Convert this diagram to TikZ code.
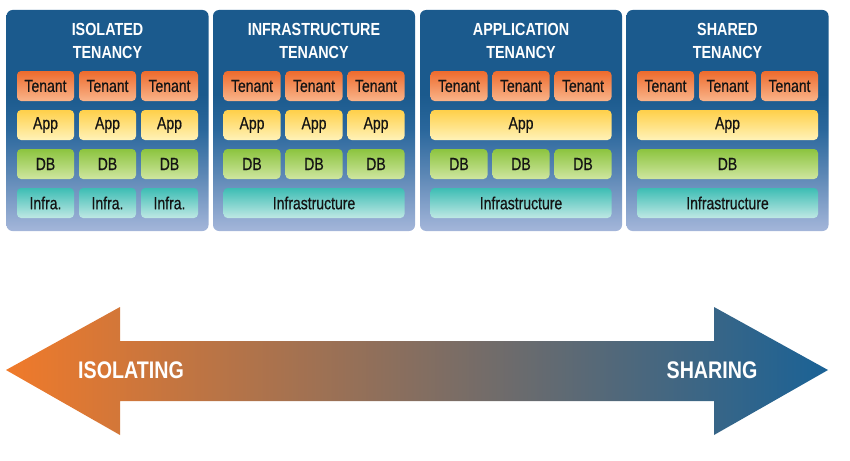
\documentclass[tikz,border=0pt]{standalone}
\usepackage{fontspec}
\newfontfamily\cond{Liberation Sans}[FakeStretch=0.82]
\newfontfamily\condmed{Liberation Sans}[FakeStretch=0.80,FakeBold=0.6]
\definecolor{pantop}{HTML}{1B5A8D}
\definecolor{panmid}{HTML}{2A679C}
\definecolor{panlow}{HTML}{A4B6DA}
\definecolor{tenmain}{HTML}{EE6B2D}
\definecolor{tenlight}{HTML}{F9B48A}
\definecolor{appmain}{HTML}{FFD04A}
\definecolor{applight}{HTML}{FFF2B8}
\definecolor{dbmain}{HTML}{8CC43F}
\definecolor{dblight}{HTML}{CFE6A0}
\definecolor{infmain}{HTML}{3DBDB4}
\definecolor{inflight}{HTML}{BFE8E4}
\definecolor{boxtext}{HTML}{141414}
\definecolor{arrleft}{HTML}{F07A2A}
\definecolor{arrmid}{HTML}{7A6A62}
\definecolor{arrright}{HTML}{1A6296}
\pgfdeclareverticalshading{panelshade}{100bp}{color(0bp)=(panlow); color(25bp)=(panlow); color(38bp)=(panmid!60!panlow); color(48bp)=(panmid); color(56bp)=(pantop); color(100bp)=(pantop)}
\tikzset{
  panel/.style={shading=panelshade, rounded corners=6pt, minimum width=202pt, minimum height=221pt, inner sep=0pt},
  cell/.style={rounded corners=4pt, minimum height=30pt, inner sep=0pt, font=\condmed\fontsize{17.5}{19}\selectfont, text=boxtext},
  tenantbox/.style={cell, top color=tenmain, middle color=tenmain, bottom color=tenlight},
  appbox/.style={cell, top color=appmain, middle color=appmain, bottom color=applight},
  dbbox/.style={cell, top color=dbmain, middle color=dbmain, bottom color=dblight},
  infbox/.style={cell, top color=infmain, middle color=infmain, bottom color=inflight},
  small/.style={minimum width=57pt},
  wide/.style={minimum width=181pt},
  title/.style={text=white, align=center, font=\cond\bfseries\fontsize{17.5}{23}\selectfont},
  arrlabel/.style={text=white, font=\cond\bfseries\fontsize{24}{26}\selectfont}
}
\begin{document}
\begin{tikzpicture}[x=1pt,y=-1pt]
\useasboundingbox (0,0) rectangle (850,460);
% panels
\node[panel] (pan1) at (107.5,120.5) {};
\node[panel] (pan2) at (314,120.5) {};
\node[panel] (pan3) at (521,120.5) {};
\node[panel] (pan4) at (727.5,120.5) {};
% titles
\node[title] (tit1) at (107.5,40.5) {ISOLATED\\TENANCY};
\node[title] (tit2) at (314,40.5) {INFRASTRUCTURE\\TENANCY};
\node[title] (tit3) at (521,40.5) {APPLICATION\\TENANCY};
\node[title] (tit4) at (727.5,40.5) {SHARED\\TENANCY};
% panel 1
\node[tenantbox,small] (a1t1) at (45.5,86) {Tenant};
\node[tenantbox,small] (a1t2) at (107.5,86) {Tenant};
\node[tenantbox,small] (a1t3) at (169.5,86) {Tenant};
\node[appbox,small] (a1a1) at (45.5,125) {App};
\node[appbox,small] (a1a2) at (107.5,125) {App};
\node[appbox,small] (a1a3) at (169.5,125) {App};
\node[dbbox,small] (a1d1) at (45.5,164) {DB};
\node[dbbox,small] (a1d2) at (107.5,164) {DB};
\node[dbbox,small] (a1d3) at (169.5,164) {DB};
\node[infbox,small] (a1i1) at (45.5,203) {Infra.};
\node[infbox,small] (a1i2) at (107.5,203) {Infra.};
\node[infbox,small] (a1i3) at (169.5,203) {Infra.};
% panel 2
\node[tenantbox,small] (a2t1) at (252,86) {Tenant};
\node[tenantbox,small] (a2t2) at (314,86) {Tenant};
\node[tenantbox,small] (a2t3) at (376,86) {Tenant};
\node[appbox,small] (a2a1) at (252,125) {App};
\node[appbox,small] (a2a2) at (314,125) {App};
\node[appbox,small] (a2a3) at (376,125) {App};
\node[dbbox,small] (a2d1) at (252,164) {DB};
\node[dbbox,small] (a2d2) at (314,164) {DB};
\node[dbbox,small] (a2d3) at (376,164) {DB};
\node[infbox,wide] (a2i) at (314,203) {Infrastructure};
% panel 3
\node[tenantbox,small] (a3t1) at (459,86) {Tenant};
\node[tenantbox,small] (a3t2) at (521,86) {Tenant};
\node[tenantbox,small] (a3t3) at (583,86) {Tenant};
\node[appbox,wide] (a3a) at (521,125) {App};
\node[dbbox,small] (a3d1) at (459,164) {DB};
\node[dbbox,small] (a3d2) at (521,164) {DB};
\node[dbbox,small] (a3d3) at (583,164) {DB};
\node[infbox,wide] (a3i) at (521,203) {Infrastructure};
% panel 4
\node[tenantbox,small] (a4t1) at (665.5,86) {Tenant};
\node[tenantbox,small] (a4t2) at (727.5,86) {Tenant};
\node[tenantbox,small] (a4t3) at (789.5,86) {Tenant};
\node[appbox,wide] (a4a) at (727.5,125) {App};
\node[dbbox,wide] (a4d) at (727.5,164) {DB};
\node[infbox,wide] (a4i) at (727.5,203) {Infrastructure};
% double arrow
\path[left color=arrleft, middle color=arrmid, right color=arrright]
  (6,370) -- (120,307) -- (120,341) -- (714,341) -- (714,307) -- (828,370)
  -- (714,435) -- (714,401) -- (120,401) -- (120,435) -- cycle;
\node[arrlabel] (iso) at (131,370) {ISOLATING};
\node[arrlabel] (sha) at (712,370) {SHARING};
\end{tikzpicture}
\end{document}
